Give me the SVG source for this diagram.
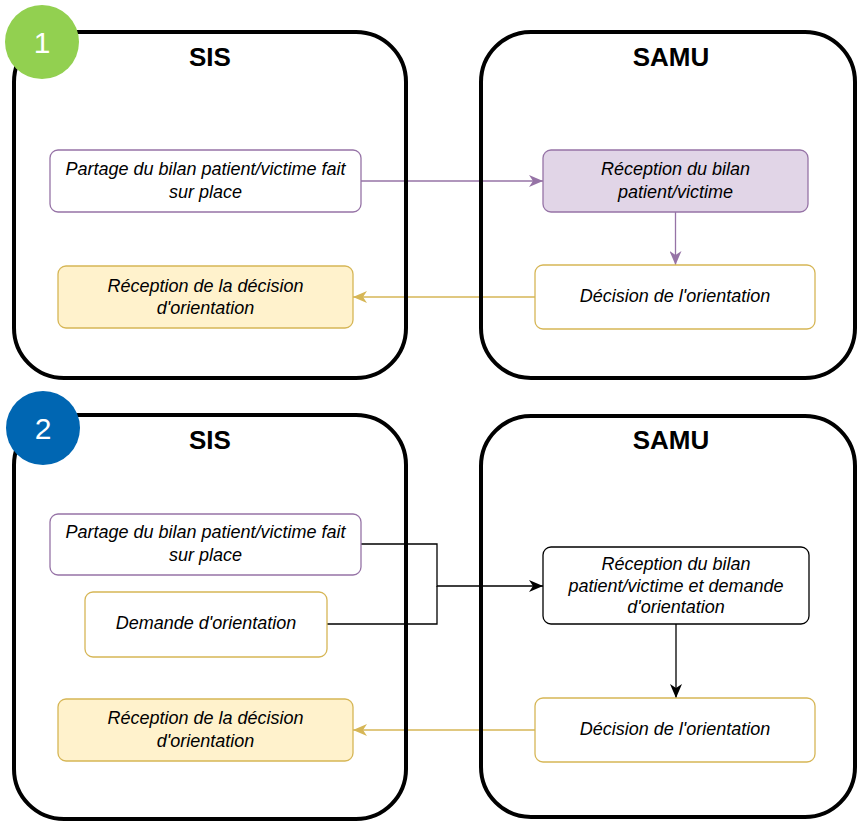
<svg xmlns="http://www.w3.org/2000/svg" width="858" height="822" viewBox="0 0 858 822">
  <style>
    .container { fill: none; stroke: #000; stroke-width: 4; }
    .title { font-family: "Liberation Sans", Arial, sans-serif; font-weight: bold; font-size: 26px; fill: #000; text-anchor: middle; }
    .badge-num { font-family: "Liberation Sans", Arial, sans-serif; font-size: 30px; fill: #fff; text-anchor: middle; }
    .node { stroke-width: 1.3; }
    .purple { fill: #fff; stroke: #9673A6; }
    .purple-fill { fill: #E1D5E7; stroke: #9673A6; }
    .yellow { fill: #fff; stroke: #D6B656; }
    .yellow-fill { fill: #FFF2CC; stroke: #D6B656; }
    .plain { fill: #fff; stroke: #000; }
    .label { font-family: "Liberation Sans", Arial, sans-serif; font-style: italic; font-size: 18px; fill: #000; text-anchor: middle; }
    .edge { fill: none; stroke-width: 1.3; }
  </style>
  <defs>
    <marker id="arrow-purple" markerUnits="userSpaceOnUse" markerWidth="14" markerHeight="12" refX="14" refY="6" orient="auto">
      <path d="M0,0 L14,6 L0,12 L4,6 Z" fill="#9673A6"/>
    </marker>
    <marker id="arrow-yellow" markerUnits="userSpaceOnUse" markerWidth="14" markerHeight="12" refX="14" refY="6" orient="auto">
      <path d="M0,0 L14,6 L0,12 L4,6 Z" fill="#D6B656"/>
    </marker>
    <marker id="arrow-black" markerUnits="userSpaceOnUse" markerWidth="14" markerHeight="12" refX="14" refY="6" orient="auto">
      <path d="M0,0 L14,6 L0,12 L4,6 Z" fill="#000"/>
    </marker>
  </defs>

  <rect width="858" height="822" fill="#fff"/>

  <!-- Connectors -->
  <g id="connectors">
    <path class="edge" stroke="#9673A6" d="M361,181 H543" marker-end="url(#arrow-purple)"/>
    <path class="edge" stroke="#9673A6" d="M675.5,212 V265" marker-end="url(#arrow-purple)"/>
    <path class="edge" stroke="#D6B656" d="M535,297 H353" marker-end="url(#arrow-yellow)"/>
    <path class="edge" stroke="#000" d="M361,544 H437 V586 H543" marker-end="url(#arrow-black)"/>
    <path class="edge" stroke="#000" d="M327,624 H437 V586"/>
    <path class="edge" stroke="#000" d="M676,624 V698" marker-end="url(#arrow-black)"/>
    <path class="edge" stroke="#D6B656" d="M535,730 H353" marker-end="url(#arrow-yellow)"/>
  </g>

  <!-- Scenario 1 -->
  <g id="sis-1">
    <rect class="container" x="14" y="32" width="392" height="346" rx="50" ry="50"/>
    <text class="title" x="210" y="66">SIS</text>
  </g>
  <g id="samu-1">
    <rect class="container" x="481" y="32" width="374" height="346" rx="50" ry="50"/>
    <text class="title" x="671" y="66">SAMU</text>
  </g>
  <g id="badge-1">
    <circle cx="42" cy="42" r="37" fill="#92D050"/>
    <text class="badge-num" x="42" y="53">1</text>
  </g>
  <g id="partage-1">
    <rect class="node purple" x="50" y="150" width="311" height="62" rx="8"/>
    <text class="label" x="205.5" y="175">Partage du bilan patient/victime fait</text>
    <text class="label" x="205.5" y="198">sur place</text>
  </g>
  <g id="reception-decision-1">
    <rect class="node yellow-fill" x="58" y="266" width="295" height="62" rx="8"/>
    <text class="label" x="205.5" y="292">Réception de la décision</text>
    <text class="label" x="205.5" y="314">d'orientation</text>
  </g>
  <g id="reception-bilan-1">
    <rect class="node purple-fill" x="543" y="150" width="265" height="62" rx="8"/>
    <text class="label" x="675.5" y="175">Réception du bilan</text>
    <text class="label" x="675.5" y="198">patient/victime</text>
  </g>
  <g id="decision-1">
    <rect class="node yellow" x="535" y="265" width="280" height="64" rx="8"/>
    <text class="label" x="675" y="302">Décision de l'orientation</text>
  </g>

  <!-- Scenario 2 -->
  <g id="sis-2">
    <rect class="container" x="14" y="415" width="392" height="404" rx="50" ry="50"/>
    <text class="title" x="210" y="449">SIS</text>
  </g>
  <g id="samu-2">
    <rect class="container" x="481" y="416" width="374" height="401" rx="50" ry="50"/>
    <text class="title" x="671" y="449">SAMU</text>
  </g>
  <g id="badge-2">
    <circle cx="43" cy="428" r="37" fill="#0066B2"/>
    <text class="badge-num" x="43" y="439">2</text>
  </g>
  <g id="partage-2">
    <rect class="node purple" x="50" y="514" width="311" height="61" rx="8"/>
    <text class="label" x="205.5" y="538">Partage du bilan patient/victime fait</text>
    <text class="label" x="205.5" y="561">sur place</text>
  </g>
  <g id="demande-2">
    <rect class="node yellow" x="85" y="592" width="242" height="65" rx="8"/>
    <text class="label" x="206" y="629">Demande d'orientation</text>
  </g>
  <g id="reception-decision-2">
    <rect class="node yellow-fill" x="58" y="699" width="295" height="62" rx="8"/>
    <text class="label" x="205.5" y="724">Réception de la décision</text>
    <text class="label" x="205.5" y="747">d'orientation</text>
  </g>
  <g id="reception-bilan-2">
    <rect class="node plain" x="543" y="547" width="266" height="77" rx="8"/>
    <text class="label" x="676" y="570">Réception du bilan</text>
    <text class="label" x="676" y="591.5">patient/victime et demande</text>
    <text class="label" x="676" y="613">d'orientation</text>
  </g>
  <g id="decision-2">
    <rect class="node yellow" x="535" y="698" width="280" height="64" rx="8"/>
    <text class="label" x="675" y="735">Décision de l'orientation</text>
  </g>
</svg>
